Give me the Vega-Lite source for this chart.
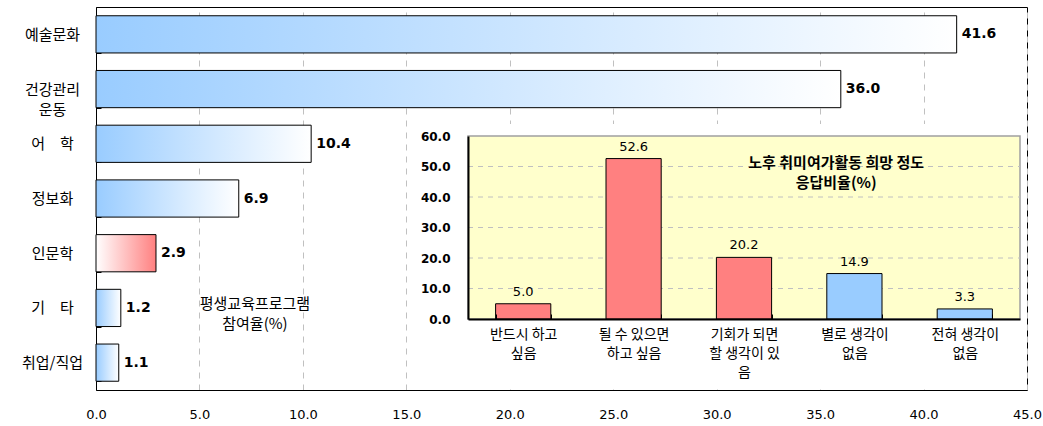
{
  "$schema": "https://vega.github.io/schema/vega-lite/v6.json",
  "width": 931,
  "height": 383,
  "autosize": {"type": "none"},
  "padding": {"left": 96, "top": 7, "right": 16, "bottom": 36},
  "background": "white",
  "config": {"view": {"stroke": "black", "strokeWidth": 1}, "font": "Noto Sans CJK KR"},
  "datasets": {
    "main": [
      {"category": "예술문화", "value": 41.6, "series": "A"},
      {"category": "건강관리\n운동", "value": 36.0, "series": "A"},
      {"category": "어　학", "value": 10.4, "series": "A"},
      {"category": "정보화", "value": 6.9, "series": "A"},
      {"category": "인문학", "value": 2.9, "series": "B"},
      {"category": "기　타", "value": 1.2, "series": "A"},
      {"category": "취업/직업", "value": 1.1, "series": "A"}
    ],
    "inset": [
      {"label": "반드시 하고\n싶음", "value": 5.0, "kind": "희망"},
      {"label": "될 수 있으면\n하고 싶음", "value": 52.6, "kind": "희망"},
      {"label": "기회가 되면\n할 생각이 있\n음", "value": 20.2, "kind": "희망"},
      {"label": "별로 생각이\n없음", "value": 14.9, "kind": "비희망"},
      {"label": "전혀 생각이\n없음", "value": 3.3, "kind": "비희망"}
    ],
    "gridlines": [{"g": 10}, {"g": 20}, {"g": 30}, {"g": 40}, {"g": 50}],
    "notes": [
      {"chart": "main", "note": ["평생교육프로그램", "참여율(%)"]},
      {"chart": "inset", "note": ["노후 취미여가활동 희망 정도", "응답비율(%)"]}
    ]
  },
  "layer": [
    {
      "data": {"name": "main"},
      "encoding": {
        "y": {
          "field": "category", "type": "nominal",
          "sort": ["예술문화", "건강관리\n운동", "어　학", "정보화", "인문학", "기　타", "취업/직업"],
          "scale": {"paddingInner": 0.32, "paddingOuter": 0.16},
          "axis": {
            "title": null, "labelFont": "Noto Sans CJK KR", "labelFontSize": 15, "labelColor": "black",
            "labelAlign": "center", "labelPadding": 49, "labelExpr": "isValid(datum.value) ? split(datum.value, '\\n') : ''",
            "labelLineHeight": 20, "labelLimit": 0, "domainColor": "black", "ticks": true,
            "tickBand": "extent", "tickSize": -5, "tickColor": "black"
          }
        },
        "x": {
          "field": "value", "type": "quantitative",
          "scale": {"domain": [0, 45], "nice": false},
          "axis": {
            "title": null, "values": [0, 5, 10, 15, 20, 25, 30, 35, 40, 45], "format": ".1f",
            "labelFont": "DejaVu Sans", "labelFontSize": 13, "labelColor": "black", "labelPadding": 18,
            "labelFlush": false, "ticks": false, "domainColor": "black", "grid": true,
            "gridColor": "#C0C0C0", "gridDash": [6, 6]
          }
        }
      },
      "layer": [
        {
          "transform": [{"filter": "datum.series == 'A'"}],
          "mark": {
            "type": "bar", "stroke": "black", "strokeWidth": 1,
            "fill": {"gradient": "linear", "x1": 0, "x2": 1, "y1": 0, "y2": 0,
              "stops": [{"offset": 0, "color": "#99CCFF"}, {"offset": 1, "color": "#FFFFFF"}]}
          }
        },
        {
          "transform": [{"filter": "datum.series == 'B'"}],
          "mark": {
            "type": "bar", "stroke": "black", "strokeWidth": 1,
            "fill": {"gradient": "linear", "x1": 0, "x2": 1, "y1": 0, "y2": 0,
              "stops": [{"offset": 0, "color": "#FFFFFF"}, {"offset": 1, "color": "#FF8080"}]}
          }
        },
        {
          "mark": {"type": "text", "align": "left", "baseline": "middle", "dx": 5, "fontWeight": "bold", "fontSize": 14, "font": "DejaVu Sans", "color": "black"},
          "encoding": {"text": {"field": "value", "type": "quantitative", "format": ".1f"}}
        }
      ]
    },
    {
      "layer": [
        {
          "data": {"values": [{"box": 1}]},
          "mark": {"type": "rect", "fill": "white"},
          "encoding": {
            "x": {"datum": -0.105, "type": "quantitative", "scale": {"domain": [0, 1], "range": [372, 924], "nice": false}, "axis": null},
            "x2": {"datum": 1.01},
            "y": {"datum": 63.9, "type": "quantitative", "scale": {"domain": [0, 60], "range": [312, 129], "nice": false}, "axis": null},
            "y2": {"datum": -23.1}
          }
        },
        {
          "data": {"values": [{"box": 2}]},
          "mark": {"type": "rect", "fill": "#FFFFCC", "stroke": "#A0A0A0", "strokeWidth": 1.5},
          "encoding": {
            "x": {"datum": 0, "type": "quantitative", "axis": null},
            "x2": {"datum": 1},
            "y": {"datum": 60, "type": "quantitative", "axis": null},
            "y2": {"datum": 0}
          }
        },
        {
          "data": {"name": "gridlines"},
          "mark": {"type": "rule", "stroke": "#C0C0C0", "strokeWidth": 1, "strokeDash": [5, 5]},
          "encoding": {
            "x": {"datum": 0, "type": "quantitative", "axis": null},
            "x2": {"datum": 1},
            "y": {"field": "g", "type": "quantitative", "axis": null}
          }
        },
        {
          "data": {"name": "notes"},
          "transform": [{"filter": "datum.chart == 'main'"}],
          "mark": {"type": "text", "align": "center", "baseline": "middle", "fontSize": 15, "lineHeight": 20, "color": "black"},
          "encoding": {
            "x": {"datum": -0.386, "type": "quantitative", "axis": null},
            "y": {"datum": 4.9, "type": "quantitative", "axis": null},
            "text": {"field": "note", "type": "nominal"}
          }
        },
        {
          "data": {"name": "notes"},
          "transform": [{"filter": "datum.chart == 'inset'"}],
          "mark": {"type": "text", "align": "center", "baseline": "middle", "fontSize": 15, "fontWeight": "bold", "lineHeight": 20, "color": "black"},
          "encoding": {
            "x": {"datum": 0.667, "type": "quantitative", "axis": null},
            "y": {"datum": 51.1, "type": "quantitative", "axis": null},
            "text": {"field": "note", "type": "nominal"}
          }
        }
      ]
    },
    {
      "data": {"name": "inset"},
      "encoding": {
        "x": {
          "field": "label", "type": "nominal", "sort": null,
          "scale": {"range": [372, 924], "paddingInner": 0.5, "paddingOuter": 0.25},
          "axis": {
            "orient": "bottom", "offset": -71, "title": null, "labelAngle": 0,
            "labelExpr": "isValid(datum.value) ? split(datum.value, '\\n') : ''", "labelFont": "Noto Sans CJK KR", "labelFontSize": 14,
            "labelColor": "black", "labelLineHeight": 19, "labelPadding": 13, "labelBaseline": "top",
            "labelLimit": 0, "domainColor": "black", "domainWidth": 2, "ticks": true, "tickBand": "extent",
            "tickSize": -5, "tickColor": "black", "zindex": 1
          }
        },
        "y": {
          "field": "value", "type": "quantitative",
          "scale": {"domain": [0, 60], "range": [312, 129], "nice": false},
          "axis": {
            "orient": "left", "offset": -372, "title": null, "values": [0, 10, 20, 30, 40, 50, 60],
            "format": ".1f", "grid": false, "ticks": false, "domainColor": "black", "domainWidth": 2,
            "labelFont": "DejaVu Sans", "labelFontWeight": "bold", "labelFontSize": 12, "labelColor": "black",
            "labelPadding": 18, "zindex": 1
          }
        }
      },
      "layer": [
        {
          "mark": {"type": "bar", "stroke": "black", "strokeWidth": 1},
          "encoding": {
            "color": {"field": "kind", "type": "nominal", "scale": {"domain": ["희망", "비희망"], "range": ["#FF8080", "#99CCFF"]}, "legend": null}
          }
        },
        {
          "mark": {"type": "text", "baseline": "bottom", "dy": -5, "font": "DejaVu Sans", "fontSize": 13, "color": "black"},
          "encoding": {"text": {"field": "value", "type": "quantitative", "format": ".1f"}}
        }
      ]
    }
  ],
  "resolve": {"scale": {"x": "independent", "y": "independent"}, "axis": {"x": "independent", "y": "independent"}}
}
